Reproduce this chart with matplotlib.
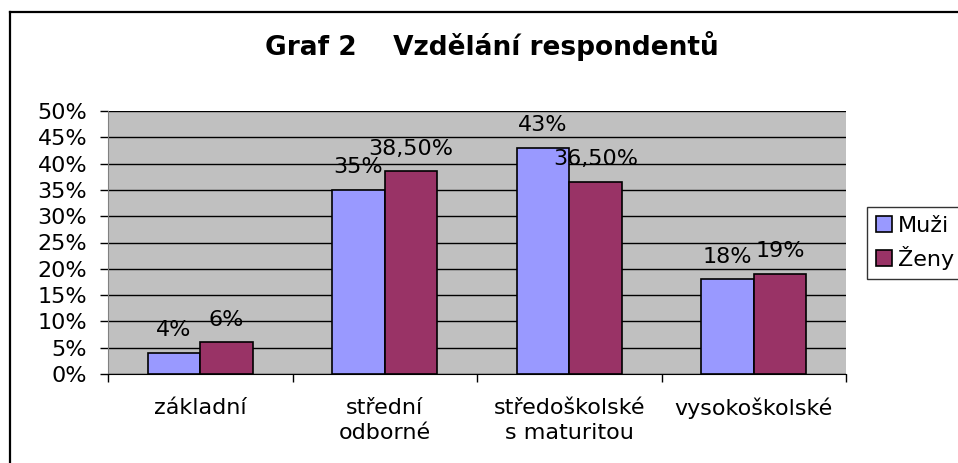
import matplotlib
matplotlib.use("Agg")
import matplotlib.pyplot as plt
from matplotlib.lines import Line2D
import numpy as np

categories = ["základní", "střední\nodborné", "středoškolské\ns maturitou", "vysokoškolské"]
muzi = [4, 35, 43, 18]
zeny = [6, 38.5, 36.5, 19]
muzi_labels = ["4%", "35%", "43%", "18%"]
zeny_labels = ["6%", "38,50%", "36,50%", "19%"]
yticks = [0, 5, 10, 15, 20, 25, 30, 35, 40, 45, 50]
series_names = ["Muži", "Ženy"]

plt.rcParams['font.family'] = ['DejaVu Sans']

W, H = 958, 463
fig = plt.figure(figsize=(W / 100, H / 100), dpi=100)
fig.patch.set_facecolor("white")

ax = fig.add_axes([108 / W, 1 - 374 / H, (846 - 108) / W, (374 - 111) / H])
ax.set_facecolor("#C0C0C0")

x = np.arange(len(categories))
w = 1 / 3.5
c_m = "#9999FF"
c_z = "#993366"
ax.set_axisbelow(True)
ax.yaxis.grid(True, color="black", linewidth=1)
ax.bar(x - w / 2, muzi, width=w, color=c_m, edgecolor="black", linewidth=1.2, zorder=3)
ax.bar(x + w / 2, zeny, width=w, color=c_z, edgecolor="black", linewidth=1.2, zorder=3)

fs = 16
for xi, v, lab in zip(x - w / 2, muzi, muzi_labels):
    ax.annotate(lab, (xi, v), xytext=(0, 12), textcoords="offset points",
                ha="center", va="baseline", fontsize=fs, zorder=5)
for xi, v, lab in zip(x + w / 2, zeny, zeny_labels):
    ax.annotate(lab, (xi, v), xytext=(0, 12), textcoords="offset points",
                ha="center", va="baseline", fontsize=fs, zorder=5)

ax.set_xlim(-0.5, len(categories) - 0.5)
ax.set_ylim(0, 50)
ax.set_yticks(yticks)
ax.set_yticklabels([f"{t}%" for t in yticks], fontsize=fs)
ax.tick_params(axis="y", direction="out", length=6, width=1, pad=9, colors="black")

ax.set_xticks(x)
ax.set_xticklabels(categories, fontsize=fs, linespacing=1.35)
ax.tick_params(axis="x", which="major", length=0, pad=17)
ax.set_xticks(np.arange(-0.5, len(categories)), minor=True)
ax.tick_params(axis="x", which="minor", direction="out", length=6, width=1)

for s in ["top", "right"]:
    ax.spines[s].set_visible(False)
ax.spines["left"].set_color("#808080")
ax.spines["bottom"].set_color("black")

fig.text(492 / W, 1 - 46 / H, "Graf 2    Vzdělání respondentů", ha="center", va="center",
         fontsize=19, fontweight="bold")

handles = [Line2D([0], [0], marker="s", linestyle="none", markersize=11,
                  markerfacecolor=c, markeredgecolor="black", markeredgewidth=1.2)
           for c in (c_m, c_z)]
leg = fig.legend(handles, series_names, loc="upper left", bbox_to_anchor=(867 / W, 1 - 207 / H),
                 frameon=True, fancybox=False, edgecolor="black", fontsize=fs,
                 handlelength=0.7, handletextpad=0.3, borderpad=0.4, labelspacing=0.45,
                 borderaxespad=0)
leg.get_frame().set_linewidth(1)

# figure border (top and left)
fig.add_artist(Line2D([10 / W, 1], [1 - 12 / H, 1 - 12 / H], color="black", linewidth=1.6,
                      transform=fig.transFigure))
fig.add_artist(Line2D([10 / W, 10 / W], [0, 1 - 12 / H], color="black", linewidth=1.6,
                      transform=fig.transFigure))

fig.savefig("out.png", dpi=100)
